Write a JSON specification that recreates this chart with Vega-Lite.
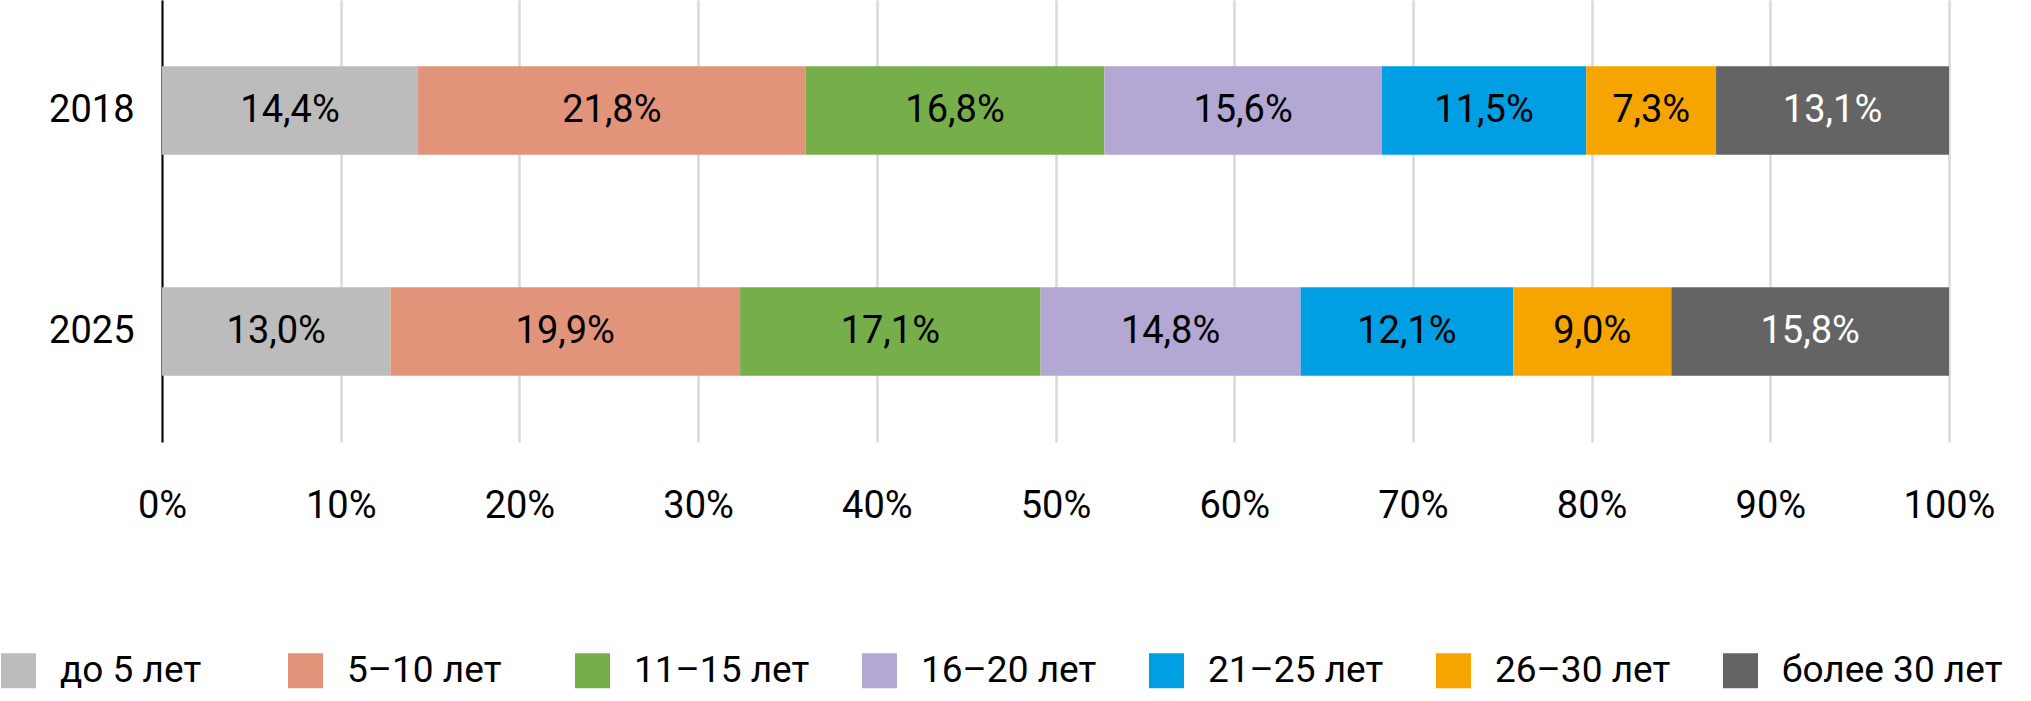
{
  "$schema": "https://vega.github.io/schema/vega-lite/v6.json",
  "width": 1787,
  "height": 442,
  "padding": {"left": 0, "top": 0, "right": 0, "bottom": 12},
  "background": "white",
  "config": {
    "locale": {"number": {"decimal": ",", "thousands": " ", "grouping": [3], "currency": ["", " ₽"]}},
    "font": "Roboto",
    "view": {"stroke": null}
  },
  "data": {
    "values": [
      {"year": "2018", "group": "до 5 лет", "k": 1, "share": 0.144},
      {"year": "2018", "group": "5–10 лет", "k": 2, "share": 0.218},
      {"year": "2018", "group": "11–15 лет", "k": 3, "share": 0.168},
      {"year": "2018", "group": "16–20 лет", "k": 4, "share": 0.156},
      {"year": "2018", "group": "21–25 лет", "k": 5, "share": 0.115},
      {"year": "2018", "group": "26–30 лет", "k": 6, "share": 0.073},
      {"year": "2018", "group": "более 30 лет", "k": 7, "share": 0.131},
      {"year": "2025", "group": "до 5 лет", "k": 1, "share": 0.130},
      {"year": "2025", "group": "5–10 лет", "k": 2, "share": 0.199},
      {"year": "2025", "group": "11–15 лет", "k": 3, "share": 0.171},
      {"year": "2025", "group": "16–20 лет", "k": 4, "share": 0.148},
      {"year": "2025", "group": "21–25 лет", "k": 5, "share": 0.121},
      {"year": "2025", "group": "26–30 лет", "k": 6, "share": 0.090},
      {"year": "2025", "group": "более 30 лет", "k": 7, "share": 0.158}
    ]
  },
  "encoding": {
    "y": {
      "field": "year",
      "type": "nominal",
      "sort": ["2018", "2025"],
      "scale": {"paddingInner": 0.6, "paddingOuter": 0.3},
      "axis": {
        "title": null,
        "labelFontSize": 38,
        "labelColor": "#000000",
        "labelPadding": 28,
        "ticks": false,
        "domain": true,
        "domainColor": "#000000",
        "domainWidth": 2,
        "grid": false
      }
    },
    "x": {
      "field": "share",
      "type": "quantitative",
      "stack": "normalize",
      "scale": {"domain": [0, 1], "nice": false},
      "axis": {
        "title": null,
        "format": ".0%",
        "values": [0, 0.1, 0.2, 0.3, 0.4, 0.5, 0.6, 0.7, 0.8, 0.9, 1],
        "labelFontSize": 38,
        "labelColor": "#000000",
        "labelBaseline": "alphabetic",
        "labelPadding": 75,
        "labelFlush": false,
        "ticks": false,
        "domain": false,
        "grid": true,
        "gridColor": "#d9d9d9",
        "gridWidth": 2.5
      }
    },
    "order": {"field": "k", "type": "quantitative"}
  },
  "layer": [
    {
      "mark": {"type": "bar"},
      "encoding": {
        "color": {
          "field": "group",
          "type": "nominal",
          "scale": {
            "domain": ["до 5 лет", "5–10 лет", "11–15 лет", "16–20 лет", "21–25 лет", "26–30 лет", "более 30 лет"],
            "range": ["#bcbcbc", "#e2947b", "#76ae4a", "#b3a7d3", "#009fe3", "#f6a500", "#646464"]
          },
          "legend": {
            "title": null,
            "orient": "none",
            "legendX": -162,
            "legendY": 652,
            "direction": "horizontal",
            "columns": 7,
            "gridAlign": "all",
            "columnPadding": 6,
            "symbolType": "square",
            "symbolSize": 1225,
            "symbolStrokeWidth": 0,
            "symbolOpacity": 1,
            "labelFontSize": 37,
            "labelColor": "#000000",
            "labelOffset": 23,
            "labelLimit": 400,
            "padding": 0
          }
        }
      }
    },
    {
      "mark": {"type": "text", "fontSize": 38, "baseline": "middle", "align": "center"},
      "encoding": {
        "x": {"field": "share", "type": "quantitative", "stack": "normalize", "bandPosition": 0.5},
        "text": {"field": "share", "type": "quantitative", "format": ".1%"},
        "color": {
          "condition": {"test": "datum.group === 'более 30 лет'", "value": "#ffffff"},
          "value": "#000000"
        }
      }
    }
  ]
}
